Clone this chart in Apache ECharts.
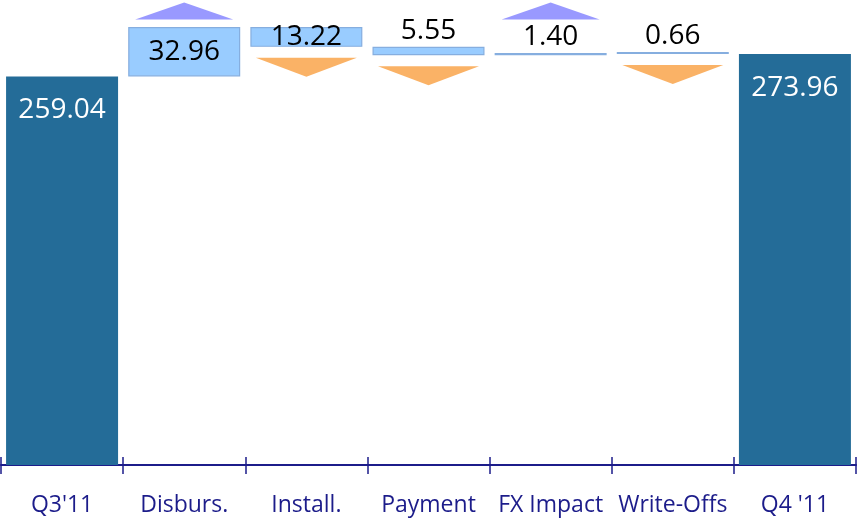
<!DOCTYPE html>
<html>
<head>
<meta charset="utf-8">
<style>
    html, body { margin: 0; padding: 0; background: #fff; }
    #chart { width: 858px; height: 521px; }
</style>
<script src="https://cdn.jsdelivr.net/npm/echarts@6/dist/echarts.min.js"></script>
</head>
<body>
<div id="chart"></div>
<script>
// categories along the x axis
const categories = ["Q3'11", 'Disburs.', 'Install.', 'Payment', 'FX Impact', 'Write-Offs', "Q4 '11"]
// opening and closing balances
const startTotal = 259.04
const endTotal = 273.96
// movements between the two balances
const changes = [32.96, -13.22, -5.55, 1.40, -0.66]

const yMax = 300
const navy = '#1C1C8A'
const totalColor = '#246C98'
const stepColor = '#99CCFF'

// build the waterfall: invisible base + visible bar
const baseData = [0]
const barData = [{
    value: startTotal,
    itemStyle: { color: totalColor },
    label: { show: true, position: 'insideTop', distance: 20, color: '#fff' }
}]
const arrowData = []
let running = startTotal
changes.forEach((c, i) => {
    const low = c > 0 ? running : running + c
    baseData.push(low)
    barData.push({
        value: Math.abs(c),
        itemStyle: { color: stepColor, borderColor: '#86AEDF', borderWidth: 1.2 },
        label: {
            show: true,
            color: '#000',
            position: Math.abs(c) >= 10 ? 'inside' : 'top',
            distance: 2
        }
    })
    if (c > 0) {
        // increase: arrow pinned near the top of the plot
        arrowData.push({
            value: [i + 1, yMax],
            symbolRotate: 0,
            symbolSize: [98, 17],
            symbolOffset: [0, -4],
            itemStyle: { color: '#9999FF' }
        })
    } else {
        // decrease: arrow hanging below the step
        arrowData.push({
            value: [i + 1, low],
            symbolRotate: 180,
            symbolSize: [101, 19],
            symbolOffset: [0, 20.5],
            itemStyle: { color: '#FAB266' }
        })
    }
    running += c
})
baseData.push(0)
barData.push({
    value: endTotal,
    itemStyle: { color: totalColor },
    label: { show: true, position: 'insideTop', distance: 20, color: '#fff' }
})

const chart = echarts.init(document.getElementById('chart'))
chart.setOption({
    animation: false,
    textStyle: { fontFamily: 'Open Sans' },
    grid: { left: 1, right: 2, top: 15, bottom: 56 },
    xAxis: [{
        type: 'category',
        data: categories,
        axisLine: { lineStyle: { color: navy, width: 2 } },
        axisTick: { show: true, length: 9, lineStyle: { color: navy, width: 1.5 } },
        axisLabel: { color: navy, fontSize: 23, margin: 29, interval: 0 }
    }, {
        type: 'category',
        data: categories,
        position: 'bottom',
        axisLine: { show: false },
        axisTick: { show: true, inside: true, length: 8, lineStyle: { color: navy, width: 1.5 } },
        axisLabel: { show: false }
    }],
    yAxis: {
        type: 'value',
        min: 0,
        max: yMax,
        show: false
    },
    series: [{
        type: 'bar',
        stack: 'w',
        barWidth: 112,
        silent: true,
        itemStyle: { color: 'transparent' },
        data: baseData
    }, {
        type: 'bar',
        stack: 'w',
        barWidth: 112,
        barMinHeight: 2,
        label: {
            fontSize: 28,
            fontFamily: 'Open Sans',
            formatter: p => p.value.toFixed(2)
        },
        data: barData
    }, {
        type: 'scatter',
        symbol: 'triangle',
        clip: false,
        z: 3,
        itemStyle: { opacity: 1 },
        data: arrowData
    }]
})
</script>
</body>
</html>
